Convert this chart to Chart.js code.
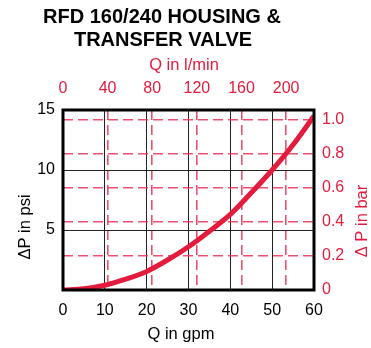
<!DOCTYPE html>
<html>
<head>
<meta charset="utf-8">
<script src="https://cdn.jsdelivr.net/npm/chart.js@4/dist/chart.umd.min.js"></script>
<style>
html,body{margin:0;padding:0;background:#fff;}
#wrap{width:371px;height:348px;position:relative;}
</style>
</head>
<body>
<div id="wrap"><canvas id="c" width="371" height="348"></canvas></div>
<script>
// ---- data ----
const flowGpm = [0, 5, 10, 15, 20, 25, 30, 35, 40, 45, 50, 55, 60];
const dpPsi   = [0, 0.1, 0.4, 0.9, 1.55, 2.5, 3.6, 4.9, 6.3, 8.1, 10.0, 12.1, 14.5];
const gpmTicks = [0, 10, 20, 30, 40, 50, 60];
const psiTicks = [0, 5, 10, 15];
const lpmTicks = [0, 40, 80, 120, 160, 200];
const barTicks = [0, 0.2, 0.4, 0.6, 0.8, 1.0];
const titleLines = ['RFD 160/240 HOUSING &', 'TRANSFER VALVE'];

const RED = '#e31b3d';
const DASHRED = 'rgba(236,60,95,0.9)';
const FONT = "'Liberation Sans', Arial, sans-serif";

const textPlugin = {
  id: 'texts',
  afterDraw(chart) {
    const ctx = chart.ctx;
    const a = chart.chartArea;
    ctx.save();
    // plot border
    ctx.strokeStyle = '#000';
    ctx.lineWidth = 3;
    ctx.strokeRect(a.left, a.top, a.right - a.left, a.bottom - a.top);
    // title
    ctx.fillStyle = '#000';
    ctx.font = 'bold 20px ' + FONT;
    ctx.textAlign = 'center';
    ctx.textBaseline = 'middle';
    ctx.fillText(titleLines[0], 162, 17);
    ctx.fillText(titleLines[1], 163, 40);
    // axis titles
    ctx.font = '16.5px ' + FONT;
    ctx.fillStyle = RED;
    ctx.fillText('Q in l/min', 184, 65);
    ctx.fillStyle = '#000';
    ctx.fillText('Q in gpm', 181, 334);
    ctx.save();
    ctx.translate(25, 227);
    ctx.rotate(-Math.PI / 2);
    ctx.fillText('\u0394P in psi', 0, 0);
    ctx.restore();
    ctx.save();
    ctx.fillStyle = RED;
    ctx.translate(362, 221);
    ctx.rotate(-Math.PI / 2);
    ctx.fillText('\u0394 P in bar', 0, 0);
    ctx.restore();
    ctx.restore();
  }
};

const setTicks = arr => scale => { scale.ticks = arr.map(v => ({ value: v })); };

new Chart(document.getElementById('c'), {
  type: 'line',
  data: {
    datasets: [{
      data: flowGpm.map((q, i) => ({ x: q, y: dpPsi[i] })),
      borderColor: RED,
      borderWidth: 5,
      pointRadius: 0,
      tension: 0.4,
      cubicInterpolationMode: 'monotone',
      fill: false,
      xAxisID: 'x',
      yAxisID: 'y'
    }]
  },
  plugins: [textPlugin],
  options: {
    responsive: false,
    animation: false,
    layout: { padding: 0 },
    plugins: { legend: { display: false }, tooltip: { enabled: false }, title: { display: false } },
    scales: {
      x: {
        type: 'linear', position: 'bottom', min: 0, max: 60,
        afterBuildTicks: setTicks(gpmTicks),
        afterFit: s => { s.height = 58; },
        grid: { color: c => (c.tick && (c.tick.value === 0 || c.tick.value === 60)) ? 'rgba(0,0,0,0)' : '#222', lineWidth: 1, drawTicks: false },
        border: { display: false },
        ticks: { color: '#000', font: { family: FONT, size: 16 }, padding: 11, maxRotation: 0 }
      },
      x2: {
        type: 'linear', position: 'top', min: 0, max: 225,
        afterBuildTicks: setTicks(lpmTicks),
        afterFit: s => { s.height = 110; },
        grid: { color: c => (c.tick && c.tick.value === 0) ? 'rgba(0,0,0,0)' : DASHRED, lineWidth: 1.6, drawTicks: false },
        border: { display: false, dash: [10, 5] },
        ticks: { color: RED, font: { family: FONT, size: 16 }, padding: 12, maxRotation: 0 }
      },
      y: {
        type: 'linear', position: 'left', min: 0, max: 15,
        afterBuildTicks: setTicks(psiTicks),
        afterFit: s => { s.width = 63; },
        grid: { color: c => (c.tick && (c.tick.value === 0 || c.tick.value === 15)) ? 'rgba(0,0,0,0)' : '#222', lineWidth: 1, drawTicks: false },
        border: { display: false },
        ticks: { color: '#000', font: { family: FONT, size: 16 }, padding: 8,
                 callback: v => (v === 0 ? '' : v) }
      },
      y2: {
        type: 'linear', position: 'right', min: 0, max: 1.056,
        afterBuildTicks: setTicks(barTicks),
        afterFit: s => { s.width = 57; },
        grid: { color: c => (c.tick && c.tick.value === 0) ? 'rgba(0,0,0,0)' : DASHRED, lineWidth: 1.6, drawTicks: false },
        border: { display: false, dash: [10, 5] },
        ticks: { color: RED, font: { family: FONT, size: 16 }, padding: 8,
                 callback: v => (v === 0 ? '0' : v.toFixed(1)) }
      }
    }
  }
});
</script>
</body>
</html>
